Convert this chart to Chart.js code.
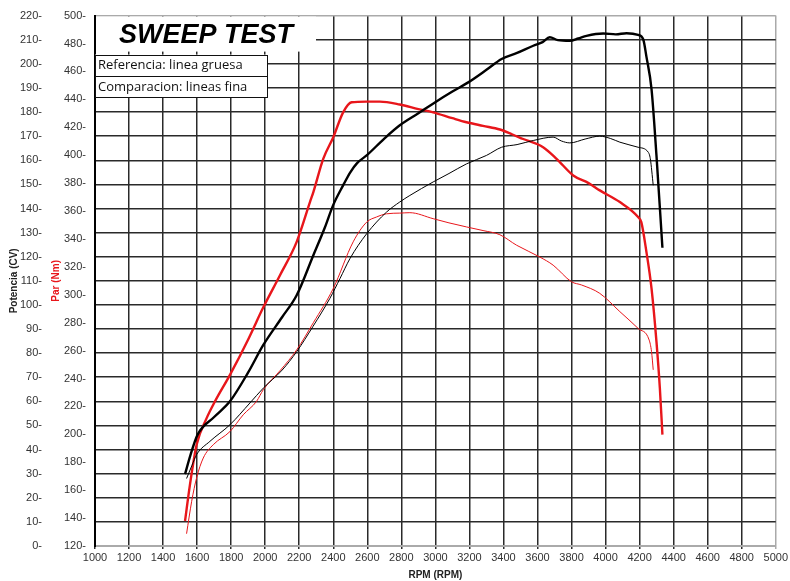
<!DOCTYPE html>
<html>
<head>
<meta charset="utf-8">
<script src="https://cdn.jsdelivr.net/npm/chart.js@4.4.0/dist/chart.umd.min.js"></script>
<style>
  html, body { margin: 0; padding: 0; background: #fff; }
  #wrap { width: 790px; height: 581px; }
</style>
</head>
<body>
<div id="wrap"><canvas id="sweep" width="790" height="581"></canvas></div>
<script>
// Potencia referencia (linea gruesa)
const refPowerRpm = [1529, 1560, 1603, 1700, 1793, 1900, 1989, 2100, 2185, 2283, 2350, 2400, 2458, 2500, 2540, 2596, 2700, 2791, 2900, 2997, 3100, 3193, 3300, 3389, 3480, 3575, 3630, 3672, 3720, 3790, 3840, 3888, 3986, 4060, 4123, 4191, 4221, 4240, 4270, 4299, 4334]
const refPower = [29.8, 37.5, 46.2, 53.5, 60, 72, 83.4, 95, 104, 120.6, 132, 141.5, 149.6, 155, 158.8, 162, 169, 174.5, 179.5, 184, 188.5, 192.3, 197.5, 202, 204.5, 207.5, 209, 211, 209.8, 209.5, 210.5, 211.6, 212.6, 212.2, 212.7, 212, 210.2, 203, 189.5, 162, 123.7]

// Potencia comparacion (linea fina)
const cmpPowerRpm = [1538, 1570, 1597, 1675, 1793, 1910, 1989, 2100, 2185, 2280, 2380, 2440, 2498, 2596, 2713, 2791, 2850, 2987, 3080, 3183, 3300, 3389, 3480, 3575, 3692, 3740, 3790, 3880, 3966, 4030, 4084, 4191, 4250, 4263, 4280]
const cmpPower = [28, 33.5, 37.9, 43.4, 50.3, 59.3, 65.5, 73, 80.6, 91, 102.7, 111, 119.2, 129.5, 138.5, 142.7, 145.4, 151, 154.5, 158.5, 162, 165.4, 166.5, 168.2, 169.6, 168, 167.2, 168.8, 170, 169, 167.5, 165.4, 163.4, 160.6, 149.6]

// Par referencia (linea gruesa)
const refTorqueRpm = [1529, 1558, 1597, 1656, 1705, 1793, 1900, 1989, 2087, 2185, 2263, 2283, 2341, 2400, 2458, 2508, 2596, 2674, 2791, 2900, 2987, 3100, 3183, 3280, 3379, 3450, 3516, 3633, 3712, 3810, 3900, 3966, 4084, 4191, 4210, 4240, 4270, 4299, 4319, 4334]
const refTorque = [137.9, 164, 192.6, 211.6, 223.6, 242.6, 268, 291, 314, 337.9, 366.4, 373.6, 397.4, 412.9, 430.7, 437.9, 438.4, 438.4, 436.3, 433, 430.7, 426.5, 423.6, 421, 418.4, 415, 411.6, 405.7, 397.4, 385.5, 380, 374.8, 366.4, 355.7, 352, 330.7, 304.5, 266.4, 233, 199.8]

// Par comparacion (linea fina)
const cmpTorqueRpm = [1538, 1568, 1597, 1636, 1695, 1793, 1871, 1949, 1989, 2090, 2185, 2283, 2400, 2517, 2596, 2654, 2713, 2791, 2850, 2987, 3080, 3183, 3280, 3379, 3477, 3614, 3692, 3800, 3859, 3966, 4084, 4191, 4256, 4270, 4280]
const cmpTorque = [128.8, 152, 168.8, 183, 192.6, 202, 214, 223.6, 232, 246, 260.5, 280, 304.5, 337.9, 352, 355.7, 358, 358.5, 358.8, 354.5, 351.5, 348.6, 346, 343, 335.5, 327, 321.2, 309.3, 307, 301, 287.9, 275.9, 267.6, 259.3, 246.2]

// Ejes: [min, max, paso]
const rpmRange = [1000, 5000, 200]
const powerRange = [0, 220, 10]
const torqueRange = [120, 500, 20]

const titleText = 'SWEEP TEST'
const legendLines = ['Referencia: linea gruesa', 'Comparacion: lineas fina']

const RED = '#e8161b'
const GRID = '#2a2a2a'
const FONT = "'Liberation Sans', Arial, sans-serif"

const toPoints = (xs, ys) => xs.map((x, i) => ({ x: x, y: ys[i] }))

// Title box + legend boxes drawn over the grid in the top-left corner
const headerPlugin = {
  id: 'header',
  afterDraw(chart) {
    const { ctx, chartArea } = chart
    const left = chartArea.left
    const top = chartArea.top
    ctx.save()
    ctx.fillStyle = '#fff'
    ctx.fillRect(left + 1, top + 1, 220, 35)

    ctx.fillStyle = '#000'
    ctx.font = "italic bold 27px " + FONT
    ctx.textAlign = 'center'
    ctx.textBaseline = 'alphabetic'
    ctx.fillText(titleText, left + 111, top + 27)

    ctx.font = "13px 'Open Sans', sans-serif"
    ctx.textAlign = 'left'
    ctx.textBaseline = 'middle'
    legendLines.forEach((line, i) => {
      const y = top + 39 + i * 21.5
      ctx.fillStyle = '#fff'
      ctx.fillRect(left, y, 173, 21.5)
      ctx.strokeStyle = '#111'
      ctx.lineWidth = 1
      ctx.strokeRect(left + 0.5, Math.round(y) + 0.5, 172, 21)
      ctx.fillStyle = '#111'
      ctx.fillText(line, left + 3, y + 11)
    })
    ctx.restore()
  }
}

function lineSet(label, xs, ys, axis, color, width) {
  return {
    label: label,
    data: toPoints(xs, ys),
    yAxisID: axis,
    borderColor: color,
    borderWidth: width,
    pointRadius: 0,
    cubicInterpolationMode: 'monotone'
  }
}

const chart = new Chart(document.getElementById('sweep').getContext('2d'), {
  type: 'line',
  data: {
    datasets: [
      lineSet('Potencia comparacion', cmpPowerRpm, cmpPower, 'power', '#000', 1),
      lineSet('Par comparacion', cmpTorqueRpm, cmpTorque, 'torque', RED, 1),
      lineSet('Potencia referencia', refPowerRpm, refPower, 'power', '#000', 2.4),
      lineSet('Par referencia', refTorqueRpm, refTorque, 'torque', RED, 2.4)
    ]
  },
  options: {
    responsive: false,
    animation: false,
    layout: {
      padding: { top: 13, right: 14, bottom: 0, left: 0 }
    },
    plugins: {
      legend: { display: false },
      tooltip: { enabled: false },
      title: { display: false }
    },
    scales: {
      x: {
        type: 'linear',
        min: rpmRange[0],
        max: rpmRange[1],
        afterFit: scale => { scale.height = 35 },
        ticks: {
          stepSize: rpmRange[2],
          autoSkip: false,
          maxRotation: 0,
          padding: 2,
          color: '#333',
          font: { family: FONT, size: 11 },
          callback: v => String(v)
        },
        grid: {
          color: ctx => ctx.tick && ctx.tick.value === rpmRange[1] ? '#aaa' : GRID,
          lineWidth: 1.5,
          tickLength: 3
        },
        border: { display: true, color: '#aaa', width: 2 },
        title: {
          display: true,
          text: 'RPM (RPM)',
          color: '#222',
          font: { family: FONT, size: 10, weight: 'bold' },
          padding: { top: 5, bottom: 0 }
        }
      },
      power: {
        type: 'linear',
        position: 'left',
        weight: 2,
        min: powerRange[0],
        max: powerRange[1],
        afterFit: scale => { scale.width = 44 },
        ticks: {
          stepSize: powerRange[2],
          padding: 2,
          color: '#333',
          font: { family: FONT, size: 11 },
          callback: v => v + '-'
        },
        grid: {
          color: ctx => ctx.tick && ctx.tick.value === powerRange[1] ? '#aaa' : GRID,
          lineWidth: 1.5,
          drawTicks: false
        },
        border: { display: false },
        title: {
          display: true,
          text: 'Potencia (CV)',
          color: '#222',
          font: { family: FONT, size: 10, weight: 'bold' },
          padding: { top: 8, bottom: 0 }
        }
      },
      torque: {
        type: 'linear',
        position: 'left',
        weight: 1,
        min: torqueRange[0],
        max: torqueRange[1],
        afterFit: scale => { scale.width = 51 },
        ticks: {
          stepSize: torqueRange[2],
          padding: 9,
          color: '#333',
          font: { family: FONT, size: 11 },
          callback: v => v + '-'
        },
        grid: { drawOnChartArea: false, drawTicks: false },
        border: { display: true, color: '#000', width: 2 },
        title: {
          display: true,
          text: 'Par (Nm)',
          color: RED,
          font: { family: FONT, size: 10, weight: 'bold' },
          padding: { top: 6, bottom: 0 }
        }
      }
    }
  },
  plugins: [headerPlugin]
})
</script>
</body>
</html>
